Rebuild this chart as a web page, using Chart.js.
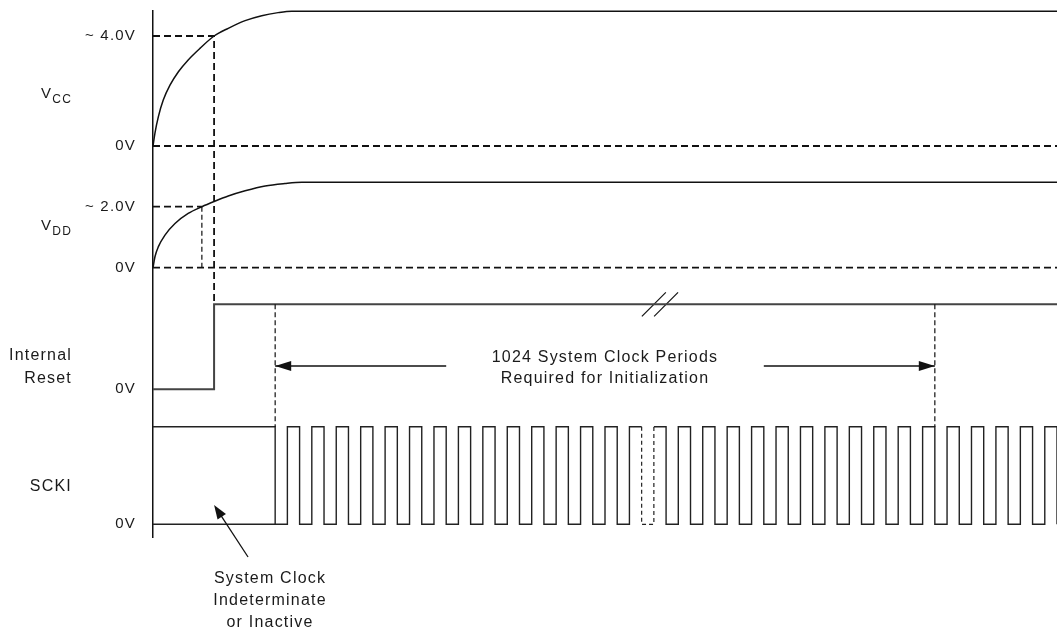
<!DOCTYPE html>
<html lang="en">
<head>
<meta charset="UTF-8">
<title>Power-up Timing</title>
<script src="https://cdn.jsdelivr.net/npm/chart.js"></script>
<style>
  * { margin: 0; padding: 0; box-sizing: border-box; }
  body { background: #fff; }
  .chart-box { width: 1057px; height: 628px; }
</style>
</head>
<body>
<div class="chart-box"><canvas id="timing-chart"></canvas></div>
<script>
// time axis is in system clock periods from power-up
const T_END = 37;

// supply ramps (time, volts)
const vccTime  = [0, 0.08, 0.22, 0.42, 0.70, 1.04, 1.44, 1.92, 2.5, 3.08, 3.77, 4.45, 5.12, 5.68, T_END];
const vccVolts = [0, 0.47, 1.07, 1.67, 2.22, 2.70, 3.13, 3.55, 4.0, 4.28, 4.56, 4.74, 4.85, 4.9, 4.9];
const vddTime  = [0, 0.08, 0.22, 0.49, 0.90, 1.44, 2.0, 2.5, 3.08, 3.77, 4.59, 5.40, 6.09, T_END];
const vddVolts = [0, 0.36, 0.69, 1.07, 1.45, 1.78, 2.0, 2.17, 2.35, 2.52, 2.68, 2.76, 2.8, 2.8];

// internal reset, logic level
const resetTime  = [0, 2.5, 2.5, T_END];
const resetLevel = [0, 0, 1, 1];

// SCKI: indeterminate until sckiIdleEnd, then rising edges (high for half a period)
const sckiIdleEnd = 5;
const sckiRise = [5.5, 6.5, 7.5, 8.5, 9.5, 10.5, 11.5, 12.5, 13.5, 14.5, 15.5, 16.5,
                  17.5, 18.5, 19.5, 20.5, 21.5, 22.5, 23.5, 24.5, 25.5, 26.5, 27.5, 28.5,
                  29.5, 30.5, 31.5, 32.5, 33.5, 34.5, 35.5, 36.5];
const sckiDashedLow = [20, 20.5];

// threshold markers and the 1024-period window
const vccMark = { t: 2.5, v: 4.0 };
const vddMark = { t: 2.0, v: 2.0 };
const initWindow = [5, 32];
const arrowShafts = [[5, 12], [25, 32]];
const breakTimes = [20.5, 21.0];

const tickLabels = ['~ 4.0V', '0V', '~ 2.0V', '0V', '0V', '0V'];

// vertical placement of each trace on the shared y scale
const rows = {
  vcc:   { base: 391,   gain: 27.5 },
  vdd:   { base: 269.3, gain: 30.5 },
  reset: { base: 147.7, gain: 85 },
  scki:  { base: 12.7,  gain: 97.6 }
};
const at = (row, v) => rows[row].base + v * rows[row].gain;
const pts = (row, ts, vs) => ts.map((t, i) => ({ x: t, y: vs[i] === null ? null : at(row, vs[i]) }));

const INK = '#111';
const FONT = '"Liberation Sans", Arial, Helvetica, sans-serif';

// build the clock step path
const sckiSolid = [{ x: 0, y: 1 }, { x: sckiIdleEnd, y: 1 }, { x: sckiIdleEnd, y: 0 }];
sckiRise.forEach(r => {
    const f = r + 0.5;
    if (r === sckiDashedLow[1]) sckiSolid.push({ x: r, y: 1 });
    else sckiSolid.push({ x: r, y: 0 }, { x: r, y: 1 });
    sckiSolid.push({ x: f, y: 1 });
    sckiSolid.push({ x: f, y: f === sckiDashedLow[0] ? null : 0 });
});
const sckiLine = sckiSolid.map(p => ({ x: p.x, y: p.y === null ? null : at('scki', p.y) }));
const sckiGap = pts('scki', [sckiDashedLow[0], sckiDashedLow[0], sckiDashedLow[1], sckiDashedLow[1]], [1, 0, 0, 1]);

function line(data, opts) {
    return Object.assign({
        data: data,
        borderColor: INK,
        borderWidth: 1.5,
        pointRadius: 0,
        tension: 0,
        fill: false,
        spanGaps: false
    }, opts);
}

const thickDash = { borderWidth: 1.8, borderDash: [7, 4] };
const thinDash = { borderWidth: 1.2, borderDash: [5, 3] };

const resetHigh = at('reset', 1);
const arrowY = at('reset', 0.274);

const datasets = [
    // guide lines
    line([{ x: 0, y: at('vcc', 0) }, { x: T_END, y: at('vcc', 0) }], thickDash),
    line([{ x: 0, y: at('vdd', 0) }, { x: T_END, y: at('vdd', 0) }], thickDash),
    line([{ x: 0, y: at('vcc', vccMark.v) }, { x: vccMark.t, y: at('vcc', vccMark.v) }, { x: vccMark.t, y: resetHigh }], thickDash),
    line([{ x: 0, y: at('vdd', vddMark.v) }, { x: vddMark.t, y: at('vdd', vddMark.v) }], thickDash),
    line([{ x: vddMark.t, y: at('vdd', vddMark.v) }, { x: vddMark.t, y: at('vdd', 0) }], thinDash),
    line([{ x: initWindow[0], y: resetHigh }, { x: initWindow[0], y: at('scki', 1) }], thinDash),
    line([{ x: initWindow[1], y: resetHigh }, { x: initWindow[1], y: at('scki', 1) }], thinDash),
    // supplies
    line(pts('vcc', vccTime, vccVolts), { cubicInterpolationMode: 'monotone' }),
    line(pts('vdd', vddTime, vddVolts), { cubicInterpolationMode: 'monotone' }),
    // reset
    line(pts('reset', resetTime, resetLevel), { borderColor: '#444', borderWidth: 2 }),
    // clock
    line(sckiLine, { borderColor: '#222', borderWidth: 1.4 }),
    line(pts('scki', [0, sckiIdleEnd], [0, 0]), { borderColor: '#222', borderWidth: 1.4 }),
    line(sckiGap, { borderColor: '#222', borderWidth: 1.2, borderDash: [4, 3] }),
    // 1024-period arrows
    ...arrowShafts.map(s => line([{ x: s[0], y: arrowY }, { x: s[1], y: arrowY }], { borderWidth: 1.3 })),
    // break marks on the reset line
    ...breakTimes.map(b => line([{ x: b - 0.49, y: resetHigh - 12 }, { x: b + 0.49, y: resetHigh + 12 }], { borderWidth: 1.2 }))
];

function arrowHead(ctx, px, py, angle, len, half) {
    ctx.save();
    ctx.translate(px, py);
    ctx.rotate(angle);
    ctx.beginPath();
    ctx.moveTo(0, 0);
    ctx.lineTo(-len, -half);
    ctx.lineTo(-len, half);
    ctx.closePath();
    ctx.fill();
    ctx.restore();
}

function subLabel(ctx, main, sub, right, baseMain, baseSub) {
    ctx.font = '12px ' + FONT;
    ctx.textAlign = 'right';
    ctx.fillText(sub, right, baseSub);
    const w = ctx.measureText(sub).width;
    ctx.font = '15px ' + FONT;
    ctx.fillText(main, right - w, baseMain);
}

const notesPlugin = {
    id: 'timingNotes',
    beforeDraw(chart) {
        chart.ctx.letterSpacing = '1.2px';
    },
    afterDatasetsDraw(chart) {
        const { ctx } = chart;
        const xs = chart.scales.x, ys = chart.scales.y;
        const px = t => xs.getPixelForValue(t);
        const py = v => ys.getPixelForValue(v);

        ctx.save();
        ctx.fillStyle = INK;
        ctx.strokeStyle = INK;

        // heads of the 1024-period arrows
        arrowHead(ctx, px(initWindow[0]), py(arrowY), Math.PI, 16, 5);
        arrowHead(ctx, px(initWindow[1]), py(arrowY), 0, 16, 5);

        // pointer into the indeterminate clock region
        const tip = { x: px(2.5), y: py(32) };
        const tail = { x: px(3.89), y: py(-20) };
        const ang = Math.atan2(tip.y - tail.y, tip.x - tail.x);
        ctx.lineWidth = 1.3;
        ctx.beginPath();
        ctx.moveTo(tail.x, tail.y);
        ctx.lineTo(tip.x - Math.cos(ang) * 10, tip.y - Math.sin(ang) * 10);
        ctx.stroke();
        arrowHead(ctx, tip.x, tip.y, ang, 14, 5);

        ctx.fillStyle = '#1a1a1a';
        ctx.font = '16px ' + FONT;
        ctx.textAlign = 'center';
        ctx.textBaseline = 'alphabetic';
        const mid = px(18.5);
        ctx.fillText('1024 System Clock Periods', mid, py(175.3));
        ctx.fillText('Required for Initialization', mid, py(153.7));

        const nx = px(4.79);
        ctx.fillText('System Clock', nx, py(-45.5));
        ctx.fillText('Indeterminate', nx, py(-68));
        ctx.fillText('or Inactive', nx, py(-90));

        // trace names
        ctx.textAlign = 'right';
        ctx.fillText('Internal', 72, py(177));
        ctx.fillText('Reset', 72, py(154));
        ctx.fillText('SCKI', 72, py(46));
        subLabel(ctx, 'V', 'CC', 72, py(439), py(434.3));
        subLabel(ctx, 'V', 'DD', 72, py(307), py(302));
        ctx.restore();
    }
};

const tickValues = [at('vcc', vccMark.v), at('vcc', 0), at('vdd', vddMark.v), at('vdd', 0), at('reset', 0), at('scki', 0)];

new Chart(document.getElementById('timing-chart'), {
    type: 'line',
    data: { datasets: datasets },
    options: {
        responsive: true,
        maintainAspectRatio: false,
        animation: false,
        clip: false,
        layout: { padding: { top: 11, bottom: 91, left: 0, right: 0 } },
        plugins: {
            legend: { display: false },
            tooltip: { enabled: false }
        },
        scales: {
            x: {
                type: 'linear',
                min: 0,
                max: T_END,
                display: false
            },
            y: {
                type: 'linear',
                min: 0,
                max: 526,
                grid: { display: false, drawTicks: false },
                border: { display: true, color: INK, width: 1.5 },
                afterFit: scale => {
                    scale.width = 153;
                    // tick padding would otherwise push the chart area down
                    scale.paddingTop = 0;
                    scale.paddingBottom = 0;
                },
                afterBuildTicks: scale => { scale.ticks = tickValues.map(v => ({ value: v })); },
                ticks: {
                    padding: 17,
                    color: '#1a1a1a',
                    font: { family: FONT, size: 15 },
                    callback: (value, index) => tickLabels[index]
                }
            }
        }
    },
    plugins: [notesPlugin]
});
</script>
</body>
</html>
